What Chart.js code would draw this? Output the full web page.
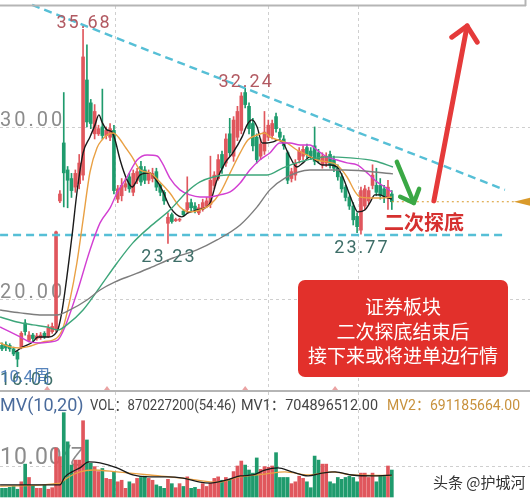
<!DOCTYPE html>
<html>
<head>
<meta charset="utf-8">
<script src="https://cdn.jsdelivr.net/npm/chart.js@4.4.1/dist/chart.umd.min.js"></script>
<style>
  html, body { margin: 0; padding: 0; background: #fff; }
  #wrap { position: relative; width: 530px; height: 500px; overflow: hidden; }
  canvas { position: absolute; left: 0; }
  #price { top: 0; }
  #vol { top: 392px; }
</style>
</head>
<body>
<div id="wrap">
  <canvas id="price" width="530" height="392"></canvas>
  <canvas id="vol" width="530" height="108"></canvas>
</div>
<script>
// daily candles (price in yuan, volume in 亿)
const opens = [17.3,17.35,17.3,17.1,16.9,17.2,18.6,17.6,17.9,17.7,
  17.75,18.0,17.8,18.1,18.2,25.7,29.07,27.5,27.0,26.5,
  26.7,27.2,32.73,31.4,29.6,29.6,30.0,29.5,29.4,29.8,
  25.8,26.0,26.5,27.1,26.2,26.9,27.7,27.5,26.9,27.0,
  27.4,26.6,26.2,24.4,24.9,24.55,24.58,25.1,25.2,25.6,
  25.4,25.0,25.2,25.4,25.5,26.6,27.0,28.4,27.9,29.6,
  28.3,29.4,29.8,32.0,31.2,30.2,29.4,28.3,28.6,29.4,
  29.5,30.6,29.7,29.3,28.5,27.0,27.2,28.1,28.3,28.8,
  28.6,28.9,28.5,27.8,27.9,28.4,28.1,27.6,27.1,26.5,
  25.9,25.4,24.8,24.0,25.4,25.7,26.6,26.6,26.6,26.4,
  25.9,26.1];
const highs = [17.45,17.5,17.4,17.2,17.0,18.1,18.8,18.1,18.0,18.0,
  18.05,18.1,18.5,18.6,23.95,26.3,32.0,27.7,27.3,27.5,
  28.4,35.68,34.77,31.6,31.3,30.1,32.2,30.0,30.2,30.1,
  26.6,27.0,27.0,27.3,27.5,27.6,28.0,27.7,27.5,27.6,
  27.6,26.7,26.3,25.0,25.0,24.7,24.7,25.2,27.1,25.8,
  25.6,25.5,25.8,25.9,28.3,27.4,28.4,28.6,29.6,30.5,
  30.6,31.2,32.0,32.24,31.4,30.5,29.6,29.3,30.9,30.4,
  30.4,30.8,29.9,29.5,28.6,27.6,28.1,28.8,28.9,29.0,
  28.8,30.0,28.7,28.5,28.5,28.6,28.3,27.8,27.3,26.6,
  26.0,25.6,25.0,26.5,26.6,26.5,27.8,27.6,27.0,26.6,
  26.9,26.3];
const lows = [17.0,17.0,16.95,16.7,16.06,17.1,17.9,17.5,17.5,17.6,
  17.65,17.7,17.75,18.0,18.1,25.6,25.35,25.3,25.9,26.2,
  26.4,26.9,30.0,29.9,29.3,29.5,29.3,29.3,29.2,26.1,
  25.6,25.7,26.3,26.2,26.0,26.7,26.6,26.7,26.7,26.8,
  26.3,26.0,25.5,23.23,24.4,24.5,24.5,24.8,25.0,25.1,
  25.0,24.9,25.1,25.3,25.3,26.4,26.9,27.3,27.7,28.3,
  28.0,29.2,29.6,31.1,29.6,28.6,27.9,28.1,28.4,29.2,
  29.3,29.7,29.2,28.7,26.7,26.8,26.9,27.9,28.1,28.2,
  28.1,27.8,27.9,27.6,27.7,27.6,27.4,26.9,26.2,25.7,
  25.2,24.3,23.85,23.77,25.2,25.5,26.4,26.0,25.8,25.6,
  25.2,25.2];
const closes = [17.1,17.15,17.1,16.8,16.5,18.0,18.1,17.9,17.7,17.85,
  17.9,17.8,18.3,18.4,23.9,26.1,27.33,26.9,26.3,27.3,
  27.9,34.07,30.29,30.2,30.9,29.9,29.5,29.8,29.9,26.3,
  26.4,26.6,26.7,26.4,27.3,27.4,26.8,26.9,27.3,27.3,
  26.5,26.2,25.7,24.75,24.5,24.62,24.64,24.9,25.6,25.3,
  25.2,25.3,25.6,25.7,26.9,27.2,28.1,27.6,29.3,28.5,
  30.4,30.9,31.8,31.3,29.9,28.9,28.1,29.0,29.7,30.1,
  30.2,29.9,29.4,28.9,26.9,27.4,27.9,28.6,28.7,28.4,
  28.3,28.0,28.1,28.3,28.3,27.8,27.6,27.1,26.4,25.9,
  25.4,24.6,24.2,26.3,26.4,26.3,27.2,26.2,26.0,26.0,
  26.5,25.65];
const volumes = [2.8,2.8,3.1,3.4,2.5,4.9,10.6,6.3,3.7,2.8,
  2.8,3.9,2.5,3.0,15.8,13.0,27.2,17.8,10.3,11.9,
  11.9,24.6,18.4,10.9,9.8,8.2,9.2,6.0,5.7,8.2,
  4.9,5.4,2.8,4.9,4.3,6.0,6.3,6.7,6.0,5.4,
  3.9,3.4,2.8,5.7,4.3,3.0,4.3,3.4,6.5,2.8,
  3.1,2.5,4.3,3.4,4.5,6.0,6.5,5.4,6.3,5.7,
  8.2,10.0,11.6,10.3,8.7,7.7,12.6,8.9,9.8,9.6,
  10.0,14.3,6.3,6.3,6.3,4.3,4.9,6.7,6.0,4.9,
  3.0,13.2,11.9,10.6,10.6,4.9,4.3,6.3,5.7,6.3,
  6.7,6.3,4.9,7.7,7.7,6.3,7.7,4.9,6.7,6.7,
  10.0,8.70];

// moving average lines, read at the candle positions given in the *At arrays
const ma5At = [3.4,5.4,8.0,9.3,11.7,14.2,15.5,18.1,19.4,21.0,22.8,24.1,25.1,25.9,27.2,28.5,29.3,30.6,32.4,33.7,35.8,38.3,39.6,41.5,43.5,46.6,48.2,50.5,52.6,53.9,55.7,57.8,59.8,62.2,63.5,64.8,66.1,67.4,68.7,70.2,71.5,72.8,74.6,76.4,78.0,79.8,81.1,82.9,85.0,87.0,88.3,89.6,90.9,92.2,94.0,95.3,96.6,97.9,99.2,101.0];
const ma5 = [16.92,17.21,17.50,17.79,17.79,18.08,19.24,23.60,26.16,28.49,29.42,30.12,30.70,30.29,29.83,29.71,29.24,28.08,26.92,26.51,27.21,27.33,27.03,26.34,25.35,24.77,25.00,25.17,25.29,25.58,26.92,27.91,28.49,29.42,30.12,30.41,30.00,29.07,29.07,29.13,29.24,29.07,28.26,27.67,27.91,28.26,28.08,27.79,27.79,27.62,27.09,26.34,25.58,25.06,25.17,25.58,26.05,26.05,25.93,25.81];
const ma10At = [-0.5,2.1,4.7,6.5,10.6,14.2,15.8,17.6,19.4,21.0,22.8,24.6,25.9,27.2,28.8,30.1,31.9,33.7,35.8,38.3,40.9,43.5,46.1,48.7,51.3,53.9,56.5,59.1,61.7,63.7,66.1,68.1,69.4,71.5,73.8,76.4,79.0,81.6,84.2,86.8,89.4,91.5,92.7,95.3,98.4,101.0];
const ma10 = [17.44,17.21,17.15,17.21,17.50,17.73,18.31,19.94,22.09,24.59,27.38,28.78,29.24,29.53,29.65,29.42,28.84,28.26,27.50,27.33,26.80,26.16,25.35,25.06,25.17,25.47,26.16,27.33,28.49,29.24,29.53,29.65,29.42,29.24,29.07,28.66,28.37,28.08,27.97,27.79,27.09,26.22,25.93,25.87,25.87,25.93];
const ma20At = [-0.5,2.1,4.7,7.3,9.8,12.4,14.5,16.3,19.4,22.8,25.4,28.0,29.8,32.4,35.0,37.6,40.2,41.5,43.5,46.1,48.7,51.3,53.9,56.5,59.1,61.7,64.2,66.8,69.4,72.0,74.6,77.2,79.8,81.6,84.2,86.8,89.4,92.0,94.6,97.2,99.2,101.0];
const ma20 = [18.37,18.08,17.79,17.50,17.44,17.50,17.62,18.37,20.35,22.85,24.42,25.29,26.16,27.09,28.08,28.37,28.31,27.91,27.03,26.34,26.05,25.93,25.93,26.05,26.22,26.74,27.50,28.08,28.49,29.07,29.07,28.95,28.95,28.66,28.26,28.08,27.91,27.79,27.33,26.80,26.51,26.22];
const ma30At = [-0.5,3.9,8.0,11.7,14.5,16.8,21.0,25.4,29.8,33.9,38.3,43.5,47.9,51.3,54.7,58.3,61.7,65.0,68.7,72.8,77.2,84.2,90.2,96.6,101.3];
const ma30 = [18.95,18.66,18.49,18.37,18.20,18.49,19.36,20.70,22.09,23.26,24.19,25.17,26.22,26.80,27.09,27.21,27.21,27.21,27.21,27.62,27.97,28.26,28.20,28.02,27.67];
const ma60At = [-0.5,4.7,9.8,14.2,17.6,22.0,25.4,29.3,33.9,38.3,44.3,50.5,55.7,61.7,66.1,69.4,73.3,79.8,88.9,101.3];
const ma60 = [19.36,19.19,19.07,19.07,19.36,19.94,20.52,20.99,21.40,21.80,22.38,22.85,23.43,24.30,25.35,26.34,27.03,27.50,27.50,27.27];

// volume averages (亿)
const mv1At = [-0.5,15.0,16.3,18.1,20.2,22.5,25.4,29.8,33.9,38.3,42.7,46.9,51.3,53.9,58.3,61.7,65.0,68.1,71.5,75.1,79.3,82.9,86.3,90.7,96.6,101.0];
const mv1 = [3.9,3.9,6.5,8.1,9.4,11.3,11.0,9.4,7.1,6.5,6.5,6.1,4.8,4.5,5.5,6.8,7.1,8.7,9.4,8.1,6.8,7.7,8.1,7.1,6.8,7.05];
const mv2At = [-0.5,15.0,16.8,20.2,23.6,29.8,38.3,46.9,55.7,61.7,68.1,73.3,79.3,85.5,90.7,101.0];
const mv2 = [3.5,4.5,6.1,8.1,8.7,8.1,7.1,6.1,4.8,6.5,7.4,8.1,7.1,8.1,7.1,6.91];

// drawn lines / marks
const trendAt = [7.8, 130.3];
const trendVal = [37.09, 26.34];
const supportAt = [-0.5, 130.3];
const supportVal = [23.72, 23.72];
const lastPriceEnd = 132.6;
const gridPrices = [20, 30];
const gridVol = [10];
const gridIdx = [29.3, 68.9, 92.2];
const markIdx = [11.7, 27.2, 63, 86.3];
const labelHighs = [21, 63];
const labelLows = [4, 43, 93];
const greenArrow = [[102.3, 27.97], [106.7, 25.58]];
const redArrow = [[111.9, 25.7], [120.5, 35.87]];
const boxLines = ['证券板块', '二次探底结束后', '接下来或将进单边行情'];
const headerTexts = ['MV(10,20)', 'VOL：870227200(54:46)', 'MV1：704896512.00', 'MV2：691185664.00'];

const X_MIN = -0.52, X_MAX = 136.8;
const RED = '#e0575d', GREEN = '#1f9b6d';
const NUM = 'Roboto, "Noto Sans CJK SC", sans-serif';
const CJK = '"Noto Sans CJK SC", sans-serif';

const idx = opens.map((_, i) => i);
const candleColors = idx.map(i => closes[i] >= opens[i] ? RED : GREEN);
const pts = (at, vals) => at.map((x, k) => ({x: x, y: vals[k]}));

function maLine(at, vals, color) {
  return {
    type: 'line', data: pts(at, vals), borderColor: color, borderWidth: 1.4,
    pointRadius: 0, cubicInterpolationMode: 'monotone', order: 0
  };
}

function hline(ctx, x0, x1, y) {
  ctx.beginPath(); ctx.moveTo(x0, y); ctx.lineTo(x1, y); ctx.stroke();
}
function vline(ctx, x, y0, y1) {
  ctx.beginPath(); ctx.moveTo(x, y0); ctx.lineTo(x, y1); ctx.stroke();
}

// squeeze a text run into the width it takes in the picture
function fitText(ctx, t, x, y, w) {
  const m = ctx.measureText(t).width;
  ctx.save();
  ctx.translate(x, y);
  if (m > w) ctx.scale(w / m, 1);
  ctx.fillText(t, 0, 0);
  ctx.restore();
}

function arrow(ctx, x0, y0, x1, y1, color, w, head) {
  ctx.strokeStyle = color;
  ctx.lineWidth = w;
  ctx.lineCap = 'round';
  ctx.lineJoin = 'round';
  ctx.beginPath(); ctx.moveTo(x0, y0); ctx.lineTo(x1, y1); ctx.stroke();
  const a = Math.atan2(y0 - y1, x0 - x1);
  ctx.beginPath();
  ctx.moveTo(x1 + head * Math.cos(a - 0.75), y1 + head * Math.sin(a - 0.75));
  ctx.lineTo(x1, y1);
  ctx.lineTo(x1 + head * Math.cos(a + 0.75), y1 + head * Math.sin(a + 0.75));
  ctx.stroke();
}

const priceDecor = {
  id: 'priceDecor',
  beforeDatasetsDraw(chart) {
    const {ctx, chartArea: a, scales: {x, y}} = chart;
    ctx.save();
    ctx.strokeStyle = '#cfcfcf';
    ctx.lineWidth = 1;
    ctx.setLineDash([3, 3]);
    gridPrices.forEach(v => hline(ctx, a.left, a.right, Math.round(y.getPixelForValue(v)) + 0.5));
    gridIdx.forEach(i => vline(ctx, Math.round(x.getPixelForValue(i)) + 0.5, a.top + 6, a.bottom));
    ctx.setLineDash([]);
    ctx.fillStyle = '#8c8c8c';
    ctx.font = '20px ' + NUM;
    ctx.letterSpacing = '3px';
    ctx.textBaseline = 'alphabetic';
    gridPrices.forEach(v => ctx.fillText(v.toFixed(2), 0, y.getPixelForValue(v) - 1));
    ctx.letterSpacing = '0px';
    ctx.restore();
  },
  afterDatasetsDraw(chart) {
    const {ctx, chartArea: a, scales: {x, y}} = chart;
    ctx.save();
    // frame lines
    ctx.strokeStyle = '#b5b5b5';
    ctx.lineWidth = 2;
    hline(ctx, 0, 526, 5.5);
    vline(ctx, 525.5, 0, 6);
    hline(ctx, 0, 530, a.bottom - 1);
    // small markers on the bottom edge
    ctx.fillStyle = '#eaa3a3';
    markIdx.forEach(i => {
      const cx = x.getPixelForValue(i);
      ctx.beginPath();
      ctx.moveTo(cx - 3, a.bottom - 2); ctx.lineTo(cx + 3, a.bottom - 2); ctx.lineTo(cx, a.bottom - 6);
      ctx.closePath(); ctx.fill();
    });
    // high / low labels
    ctx.font = '18px ' + NUM;
    ctx.letterSpacing = '2px';
    ctx.textAlign = 'center';
    ctx.fillStyle = '#b25a62';
    ctx.textBaseline = 'bottom';
    labelHighs.forEach(i => ctx.fillText(highs[i].toFixed(2), x.getPixelForValue(i) + 1, y.getPixelForValue(highs[i]) + 3));
    ctx.fillStyle = '#3e6e68';
    ctx.textBaseline = 'top';
    labelLows.forEach(i => {
      const t = lows[i].toFixed(2);
      const w = ctx.measureText(t).width;
      const cx = Math.max(w / 2, x.getPixelForValue(i) + 1);
      ctx.fillText(t, cx, y.getPixelForValue(lows[i]) + 5);
    });
    ctx.letterSpacing = '0px';
    ctx.textAlign = 'left';
    ctx.fillStyle = 'rgba(58,111,176,0.85)';
    ctx.font = '17px ' + NUM;
    ctx.fillText('10.4周', 0, y.getPixelForValue(lows[4]) + 3);
    // last price marker
    const lp = y.getPixelForValue(closes[closes.length - 1]);
    const ex = x.getPixelForValue(lastPriceEnd);
    ctx.fillStyle = '#d99a2b';
    ctx.beginPath();
    ctx.moveTo(ex, lp); ctx.lineTo(530, lp - 4); ctx.lineTo(530, lp + 4); ctx.closePath(); ctx.fill();
    // arrows
    arrow(ctx, x.getPixelForValue(greenArrow[0][0]), y.getPixelForValue(greenArrow[0][1]),
      x.getPixelForValue(greenArrow[1][0]), y.getPixelForValue(greenArrow[1][1]), '#3aa845', 4.5, 15);
    arrow(ctx, x.getPixelForValue(redArrow[0][0]), y.getPixelForValue(redArrow[0][1]),
      x.getPixelForValue(redArrow[1][0]), y.getPixelForValue(redArrow[1][1]), '#e53a3a', 5, 19);
    // annotation text
    ctx.fillStyle = '#d6302f';
    ctx.font = 'bold 20px ' + CJK;
    ctx.textAlign = 'center';
    ctx.textBaseline = 'middle';
    ctx.fillText('二次探底', 424, 222);
    // red box
    ctx.fillStyle = '#e2302b';
    ctx.beginPath();
    ctx.roundRect(298, 280, 210, 97, 7);
    ctx.fill();
    ctx.fillStyle = '#ffffff';
    ctx.font = '19px ' + CJK;
    boxLines.forEach((t, k) => ctx.fillText(t, 403, 307 + k * 24.5));
    ctx.restore();
  }
};

const volDecor = {
  id: 'volDecor',
  beforeDatasetsDraw(chart) {
    const {ctx, chartArea: a, scales: {x, y}} = chart;
    ctx.save();
    ctx.strokeStyle = '#cfcfcf';
    ctx.lineWidth = 1;
    ctx.setLineDash([3, 3]);
    gridVol.forEach(v => hline(ctx, a.left, a.right, Math.round(y.getPixelForValue(v)) + 0.5));
    gridIdx.forEach(i => vline(ctx, Math.round(x.getPixelForValue(i)) + 0.5, a.top, a.bottom));
    ctx.setLineDash([]);
    ctx.fillStyle = '#8c8c8c';
    ctx.font = '23px ' + NUM;
    ctx.letterSpacing = '1px';
    ctx.textBaseline = 'alphabetic';
    gridVol.forEach(v => ctx.fillText(v.toFixed(2) + '亿', 0, y.getPixelForValue(v) - 2));
    ctx.letterSpacing = '0px';
    ctx.restore();
  },
  afterDatasetsDraw(chart) {
    const {ctx} = chart;
    ctx.save();
    ctx.textBaseline = 'middle';
    ctx.fillStyle = '#4a6b9c';
    ctx.font = '18px ' + NUM;
    fitText(ctx, headerTexts[0], 0, 14, 84);
    ctx.fillStyle = '#444';
    ctx.font = '14px ' + NUM;
    fitText(ctx, headerTexts[1], 90, 14, 146);
    ctx.font = '15px ' + NUM;
    fitText(ctx, headerTexts[2], 241, 14, 137);
    ctx.fillStyle = '#c8913c';
    fitText(ctx, headerTexts[3], 387, 14, 133);
    ctx.fillStyle = '#333';
    ctx.font = '15px ' + CJK;
    ctx.fillText('头条 @护城河', 433, 90);
    ctx.restore();
  }
};

const xScale = {type: 'linear', min: X_MIN, max: X_MAX, display: false, offset: false};
const common = {
  responsive: false,
  animation: false,
  events: [],
  layout: {padding: 0},
  plugins: {legend: {display: false}, tooltip: {enabled: false}}
};

new Chart(document.getElementById('price'), {
  type: 'bar',
  data: {
    datasets: [
      {
        data: idx.map(i => ({x: i, y: [lows[i], highs[i]]})),
        backgroundColor: candleColors, barThickness: 1, grouped: false, order: 2
      },
      {
        data: idx.map(i => ({x: i, y: [Math.min(opens[i], closes[i]), Math.max(opens[i], closes[i])]})),
        backgroundColor: candleColors, barThickness: 3, minBarLength: 1, grouped: false, order: 2
      },
      maLine(ma60At, ma60, '#7d7d7d'),
      maLine(ma30At, ma30, '#3da67a'),
      maLine(ma20At, ma20, '#d23fd2'),
      maLine(ma10At, ma10, '#e9a043'),
      maLine(ma5At, ma5, '#1a1a1a'),
      {
        type: 'line', data: pts(trendAt, trendVal), borderColor: '#56bfd6', borderWidth: 2.4,
        borderDash: [8, 5], pointRadius: 0, order: 0
      },
      {
        type: 'line', data: pts(supportAt, supportVal), borderColor: '#56bfd6', borderWidth: 2.4,
        borderDash: [8, 5], pointRadius: 0, order: 0
      },
      {
        type: 'line',
        data: [{x: idx.length - 1, y: closes[closes.length - 1]}, {x: lastPriceEnd, y: closes[closes.length - 1]}],
        borderColor: '#d99a2b', borderWidth: 1.2, borderDash: [2, 3], pointRadius: 0, order: 0
      }
    ]
  },
  options: Object.assign({}, common, {
    scales: {
      x: xScale,
      y: {type: 'linear', min: 14.59, max: 37.38, display: false}
    }
  }),
  plugins: [priceDecor]
});

new Chart(document.getElementById('vol'), {
  type: 'bar',
  data: {
    datasets: [
      {
        data: idx.map(i => ({x: i, y: volumes[i]})),
        backgroundColor: candleColors, barThickness: 3, grouped: false, order: 2
      },
      Object.assign(maLine(mv1At, mv1, '#1a1a1a'), {borderWidth: 1.3}),
      Object.assign(maLine(mv2At, mv2, '#e9a043'), {borderWidth: 1.3})
    ]
  },
  options: Object.assign({}, common, {
    scales: {
      x: xScale,
      y: {type: 'linear', min: -0.97, max: 33.87, display: false}
    }
  }),
  plugins: [volDecor]
});
</script>
</body>
</html>
